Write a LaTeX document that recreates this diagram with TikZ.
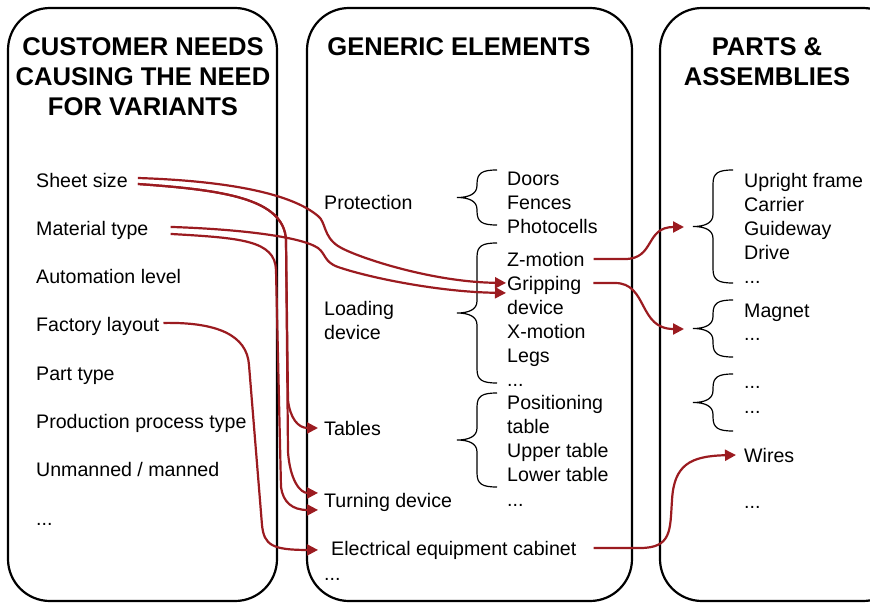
\documentclass[tikz,border=0pt]{standalone}
\usepackage{fontspec}
\setmainfont{Liberation Sans}
\usetikzlibrary{arrows.meta,calc}
\definecolor{linkred}{RGB}{155,27,32}

% curly brace opening to the right: #1 = x of the stem, #2 = top y, #3 = bottom y
\newcommand\curlybrace[3]{%
  \draw[bracestyle] ({#1+20},#2) .. controls ({#1+5},#2) and (#1,{#2+3}) .. (#1,{#2+14})
    -- (#1,{(#2+#3)/2-12}) .. controls (#1,{(#2+#3)/2-3}) and ({#1-9},{(#2+#3)/2}) .. ({#1-20},{(#2+#3)/2})
    .. controls ({#1-9},{(#2+#3)/2}) and (#1,{(#2+#3)/2+3}) .. (#1,{(#2+#3)/2+12})
    -- (#1,{#3-14}) .. controls (#1,{#3-3}) and ({#1+5},#3) .. ({#1+20},#3);}

\begin{document}
\begin{tikzpicture}[x=1pt,y=-1pt,
  panel/.style={draw=black, line width=2.2pt, rounded corners=42pt},
  head/.style={font=\fontsize{25.6}{30}\selectfont\bfseries, align=center, inner sep=0pt},
  item/.style={anchor=base west, inner sep=0pt, font=\fontsize{19.6}{24}\selectfont},
  bracestyle/.style={draw=black, line width=1.2pt},
  link/.style={draw=linkred, line width=2.2pt, -{Triangle[length=11pt,width=11pt]}}]

\useasboundingbox (0,0) rectangle (870,605);

% the three panels
\draw[panel] (8,8) rectangle (277,601);
\draw[panel] (307,8) rectangle (632,601);
\begin{scope}
  \clip (0,0) rectangle (870,605);
  \draw[panel] (660,8) rectangle (905,601);
\end{scope}

% panel headings
\node[head] (hneeds) at (143,77) {CUSTOMER NEEDS\\CAUSING THE NEED\\FOR VARIANTS};
\node[head] (hgeneric) at (459,47) {GENERIC ELEMENTS};
\node[head] (hparts) at (767,62) {PARTS \&\\ASSEMBLIES};

% customer needs
\node[item] (sheet)    at (36,187) {Sheet size};
\node[item] (mat)      at (36,235) {Material type};
\node[item] (autom)    at (36,283) {Automation level};
\node[item] (factory)  at (36,331) {Factory layout};
\node[item] (part)     at (36,380) {Part type};
\node[item] (prodproc) at (36,428) {Production process type};
\node[item] (unmanned) at (36,476) {Unmanned / manned};
\node[item] (leftmore) at (36,525) {...};

% generic elements
\node[item] (protect)  at (324,209) {Protection};
\node[item] (loading)  at (324,315) {Loading};
\node[item] (loaddev)  at (324,339) {device};
\node[item] (tables)   at (324,435) {Tables};
\node[item] (turning)  at (324,507) {Turning device};
\node[item] (elec)     at (331,555) {Electrical equipment cabinet};
\node[item] (midmore)  at (324,580) {...};

\node[item] (doors)    at (507,185) {Doors};
\node[item] (fences)   at (507,209) {Fences};
\node[item] (photo)    at (507,233) {Photocells};
\node[item] (zmot)     at (507,266) {Z-motion};
\node[item] (grip)     at (507,290) {Gripping};
\node[item] (gripdev)  at (507,314) {device};
\node[item] (xmot)     at (507,338) {X-motion};
\node[item] (legs)     at (507,362) {Legs};
\node[item] (loadmore) at (507,386) {...};
\node[item] (postab)   at (507,409) {Positioning};
\node[item] (postab2)  at (507,433) {table};
\node[item] (uppertab) at (507,457) {Upper table};
\node[item] (lowertab) at (507,481) {Lower table};
\node[item] (tabmore)  at (507,506) {...};

% parts and assemblies
\node[item] (frame)    at (744,187) {Upright frame};
\node[item] (carrier)  at (744,211) {Carrier};
\node[item] (guide)    at (744,235) {Guideway};
\node[item] (drive)    at (744,259) {Drive};
\node[item] (framemore) at (744,283) {...};
\node[item] (magnet)   at (744,317) {Magnet};
\node[item] (magmore)  at (744,340) {...};
\node[item] (othera)   at (744,388) {...};
\node[item] (otherb)   at (744,413) {...};
\node[item] (wires)    at (744,462) {Wires};
\node[item] (rightmore) at (744,508) {...};

% braces
\curlybrace{477}{170}{225}
\curlybrace{477}{243}{383}
\curlybrace{477}{393}{487}
\curlybrace{713}{170}{283}
\curlybrace{713}{300}{357}
\curlybrace{713}{374}{431}

% arrow ends at the brace tips on the right
\coordinate (toframe)  at (684,227);
\coordinate (tomagnet) at (684,329);

% customer needs -> generic elements
\draw[link] ($(sheet.east)+(10,-2)$) .. controls (230,181) and (292,194) .. (318,216)
  .. controls (326,222) and (323,236) .. (338,246)
  .. controls (353,256) and (430,282) .. ($(grip.west)+(-1,-2)$);
\draw[link] ($(mat.east)+(22,-3)$) .. controls (235,229) and (300,236) .. (318,248)
  .. controls (326,254) and (324,262) .. (338,267)
  .. controls (370,278) and (440,292) .. ($(grip.west)+(-1,8)$);
\draw[link] ($(sheet.east)+(10,4)$) .. controls (222,190) and (284,198) .. (286,240)
  -- (288,400) .. controls (290,418) and (298,428) .. ($(tables.west)+(-6,0)$);
\draw[link] ($(sheet.east)+(10,4)$) .. controls (222,190) and (284,198) .. (286,240)
  -- (288,452) .. controls (290,480) and (300,493) .. ($(turning.west)+(-6,-9)$);
\draw[link] ($(mat.east)+(22,4)$) .. controls (240,238) and (275,240) .. (276,270)
  -- (281,487) .. controls (283,502) and (292,510) .. ($(turning.west)+(-6,8)$);
\draw[link] ($(factory.east)+(4,-3)$) .. controls (217,322) and (247,335) .. (249,365)
  -- (262,525) .. controls (264,545) and (272,550) .. ($(elec.west)+(-13,0)$);

% generic elements -> parts and assemblies
\draw[link] ($(zmot.east)+(9,0)$) -- (625,259) .. controls (655,259) and (645,227) .. (toframe);
\draw[link] ($(grip.east)+(12,-2)$) -- (615,283) .. controls (648,283) and (638,329) .. (tomagnet);
\draw[link] ($(elec.east)+(17,-2)$) -- (640,548) .. controls (672,548) and (670,530) .. (672,500)
  .. controls (674,465) and (690,456) .. ($(wires.west)+(-8,0)$);
\end{tikzpicture}
\end{document}
